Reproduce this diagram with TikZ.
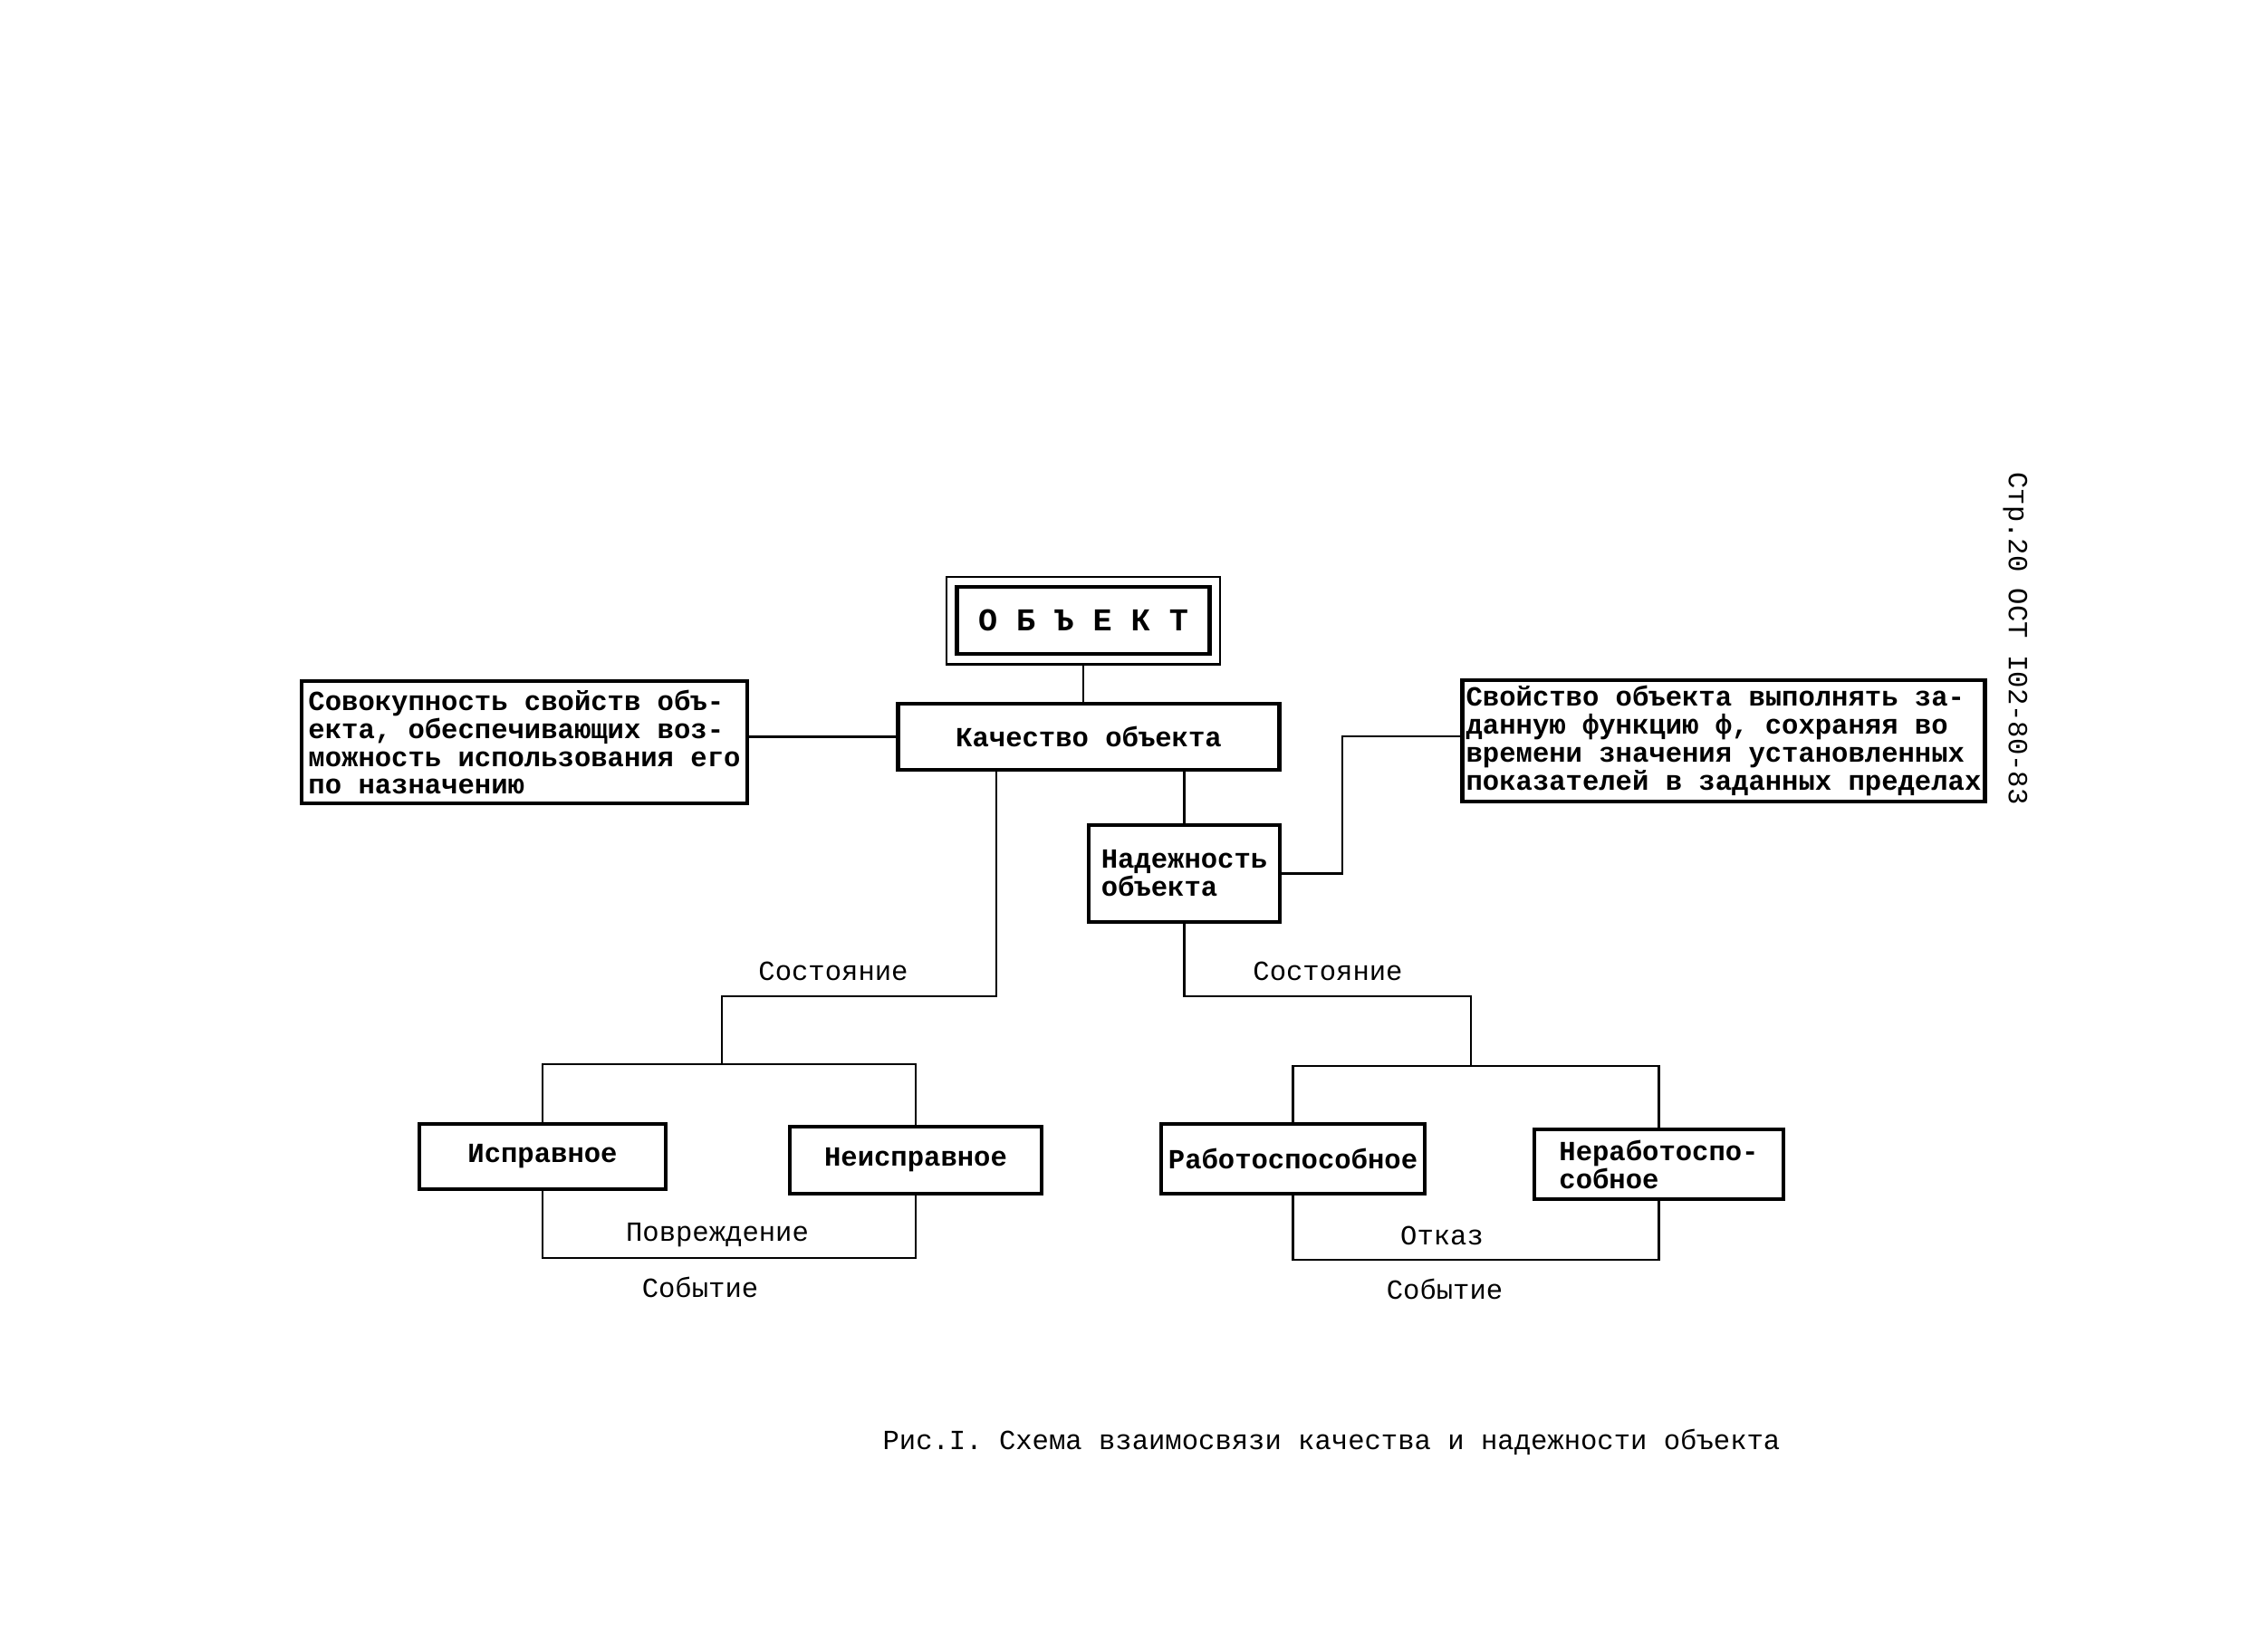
\documentclass[tikz,border=0pt]{standalone}
\usepackage{fontspec}
\setmonofont{Liberation Mono}
\usepackage{tikz}
\usetikzlibrary{positioning,calc,fit}

\begin{document}
\begin{tikzpicture}[
    box/.style={draw, line width=1.4pt, align=left, inner sep=0.4mm, font=\ttfamily\bfseries\fontsize{8.7}{8.8}\selectfont},
    frame/.style={draw, line width=0.6pt, inner sep=0.09cm},
    wire/.style={line width=0.6pt},
    lbl/.style={font=\ttfamily\fontsize{8.7}{9}\selectfont}
]
    \useasboundingbox (0,0) rectangle (25.04,-18.12);

    % Object
    \node[box, minimum width=2.79cm, minimum height=0.74cm, font=\ttfamily\bfseries\fontsize{10}{10}\selectfont] (obj) at (11.96,-6.85) {О Б Ъ Е К Т};
    \node[frame, fit=(obj)] (objF) {};

    % Quality and its definition
    \node[box, minimum width=4.21cm, minimum height=0.73cm] (qual) at (12.02,-8.135) {Качество объекта};
    \node[box, minimum width=4.92cm, minimum height=1.35cm] (defQ) at (5.79,-8.195) {Совокупность свойств объ-\\екта, обеспечивающих воз-\\можность использования его\\по назначению};

    % Reliability and its definition
    \node[box, minimum width=2.11cm, minimum height=1.07cm] (rel) at (13.075,-9.645) {Надежность\\объекта};
    \node[box, minimum width=5.72cm, minimum height=1.34cm] (defR) at (19.03,-8.18) {Свойство объекта выполнять за-\\данную функцию ф, сохраняя во\\времени значения установленных\\показателей в заданных пределах};

    % States
    \node[box, minimum width=2.72cm, minimum height=0.72cm] (ok) at (5.99,-12.77) {Исправное};
    \node[box, minimum width=2.78cm, minimum height=0.74cm] (faulty) at (10.11,-12.81) {Неисправное};
    \node[box, minimum width=2.91cm, minimum height=0.77cm] (work) at (14.275,-12.795) {Работоспособное};
    \node[box, minimum width=2.75cm, minimum height=0.77cm] (fail) at (18.315,-12.855) {Неработоспо-\\собное};

    % Labels
    \node[lbl] (stateQ) at (9.20,-10.72) {Состояние};
    \node[lbl] (stateR) at (14.66,-10.72) {Состояние};
    \node[lbl] (damage) at (7.92,-13.64) {Повреждение};
    \node[lbl] (eventQ) at (7.73,-14.21) {Событие};
    \node[lbl] (failure) at (15.92,-13.64) {Отказ};
    \node[lbl] (eventR) at (15.95,-14.23) {Событие};

    % Upper connections
    \draw[wire] (objF.south) -- (objF.south |- qual.north);
    \draw[wire] (qual.west -| defQ.east) -- (qual.west);
    \draw[wire] (rel.north |- qual.south) -- (rel.north);
    \coordinate (bendR) at (14.82,-8.13);
    \draw[wire] (rel.east) -| (bendR) -- (bendR -| defR.west);

    % Quality branch
    \coordinate (turnQ) at (11.0,-11.0);
    \coordinate (splitQ) at (7.97,-11.75);
    \coordinate (loopQ) at (7.9,-13.89);
    \draw[wire] (turnQ |- qual.south) -- (turnQ) -| (splitQ);
    \draw[wire] (ok.north) |- (splitQ) -| (faulty.north);
    \draw[wire] (ok.south) |- (loopQ) -| (faulty.south);

    % Reliability branch
    \coordinate (turnR) at (16.24,-11.0);
    \coordinate (splitR) at (16.24,-11.77);
    \coordinate (loopR) at (16.2,-13.91);
    \draw[wire] (rel.south) |- (turnR) -- (splitR);
    \draw[wire] (work.north) |- (splitR) -| (fail.north);
    \draw[wire] (work.south) |- (loopR) -| (fail.south);

    % Caption and page mark
    \node[lbl] (caption) at (14.70,-15.92) {Рис.I. Схема взаимосвязи качества и надежности объекта};
    \node[lbl, rotate=-90] (page) at (22.25,-7.05) {Стр.20 ОСТ I02-80-83};
\end{tikzpicture}
\end{document}
